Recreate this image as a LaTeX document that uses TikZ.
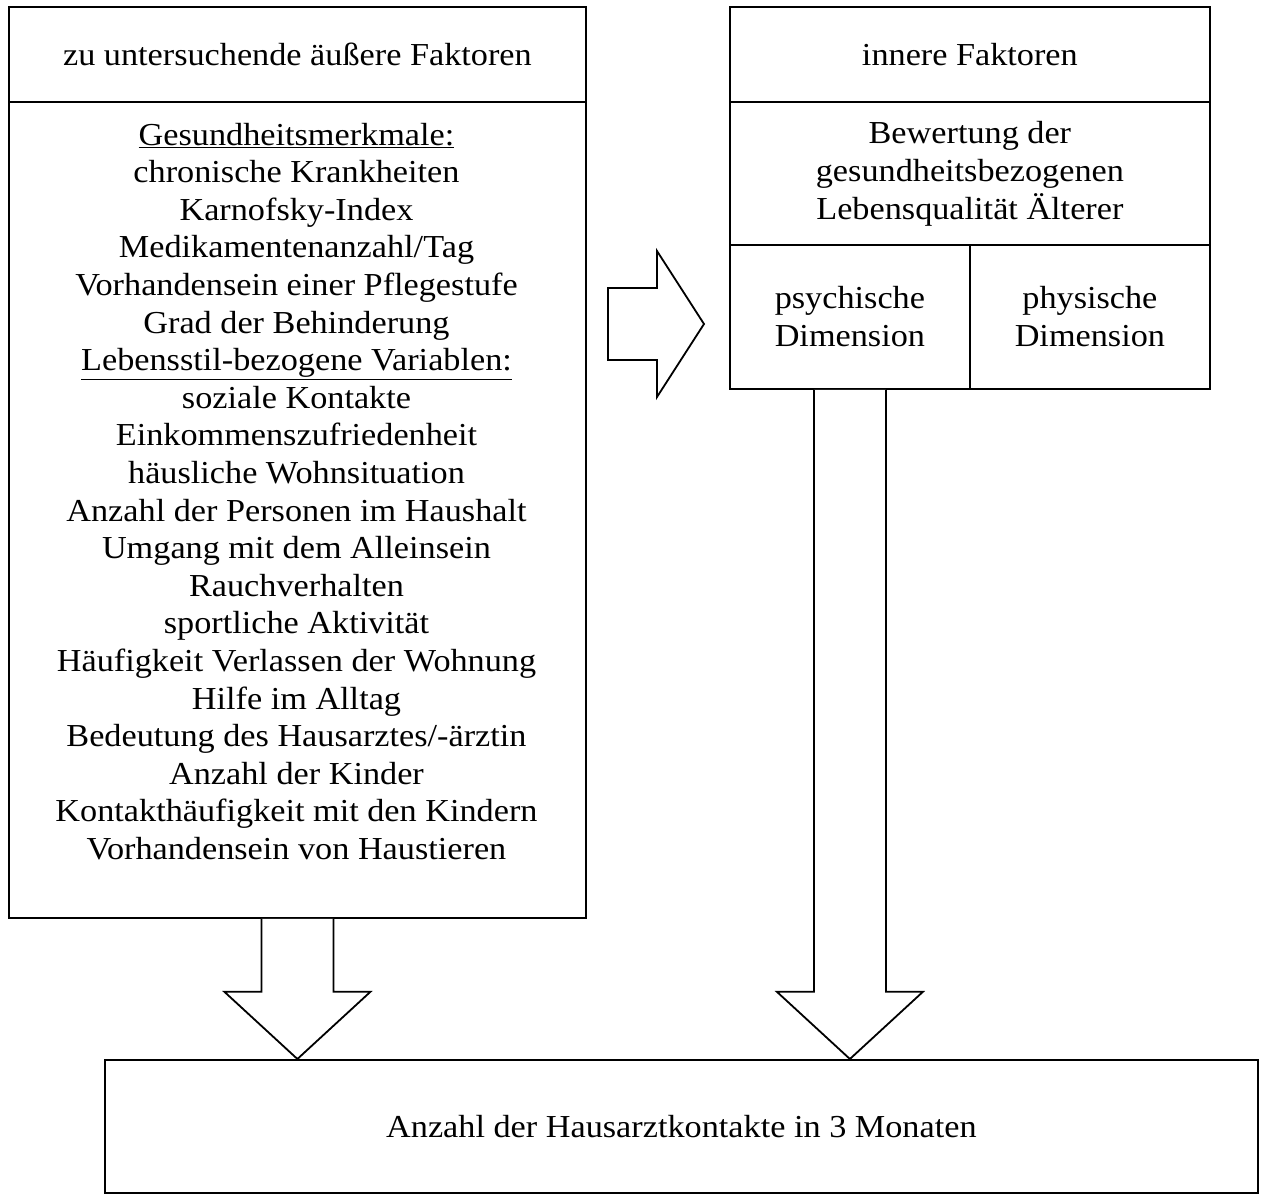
\documentclass[tikz,border=0pt]{standalone}
\usepackage{fontspec}
\setmainfont{Liberation Serif}[FakeStretch=1.07]
\usetikzlibrary{calc}
\begin{document}
\begin{tikzpicture}[x=1pt,y=-1pt,
  cell/.style={draw,line width=1.8pt,inner sep=0pt,anchor=north west,align=center,
    font=\fontsize{32}{38}\selectfont},
  txt/.style={inner sep=0pt,align=center,font=\fontsize{32}{37.6}\selectfont},
  blockarrow/.style={draw,line width=1.8pt,line join=miter,fill=white}]
\useasboundingbox (0,0) rectangle (1262,1198);
% left box
\node[cell,minimum width=577pt,minimum height=95pt] (lh) at (8,6) {zu untersuchende äußere Faktoren};
\node[cell,minimum width=577pt,minimum height=816pt] (lb) at (8,101) {};
\node[txt] (lbt) at (296.5,491.5) {\underline{Gesundheitsmerkmale:}\\
chronische Krankheiten\\
Karnofsky-Index\\
Medikamentenanzahl/Tag\\
Vorhandensein einer Pflegestufe\\
Grad der Behinderung\\
\underline{Lebensstil-bezogene Variablen:}\\
soziale Kontakte\\
Einkommenszufriedenheit\\
häusliche Wohnsituation\\
Anzahl der Personen im Haushalt\\
Umgang mit dem Alleinsein\\
Rauchverhalten\\
sportliche Aktivität\\
Häufigkeit Verlassen der Wohnung\\
Hilfe im Alltag\\
Bedeutung des Hausarztes/-ärztin\\
Anzahl der Kinder\\
Kontakthäufigkeit mit den Kindern\\
Vorhandensein von Haustieren};
% right box
\node[cell,minimum width=480pt,minimum height=95pt] (rh) at (729,6) {innere Faktoren};
\node[cell,minimum width=480pt,minimum height=143pt] (rb) at (729,101) {Bewertung der\\gesundheitsbezogenen\\Lebensqualität Älterer};
\node[cell,minimum width=240pt,minimum height=144pt] (psy) at (729,244) {psychische\\Dimension};
\node[cell,minimum width=240pt,minimum height=144pt] (phy) at (969,244) {physische\\Dimension};
% bottom box
\node[cell,minimum width=1153pt,minimum height=133pt] (bot) at (104,1059) {Anzahl der Hausarztkontakte in 3 Monaten};
% left down arrow
\draw[blockarrow] ($(lb.south)+(-36,0)$) -- ++(0,73) -- ++(-37,0)
  -- (lb.south |- bot.north) -- ($(lb.south)+(73,73)$) -- ++(-37,0) -- ($(lb.south)+(36,0)$);
% right down arrow
\draw[blockarrow] ($(psy.south)+(-36,0)$) -- ++(0,602) -- ++(-37,0)
  -- (psy.south |- bot.north) -- ($(psy.south)+(73,602)$) -- ++(-37,0) -- ($(psy.south)+(36,0)$);
% right arrow
\coordinate (ra) at (608,324);
\draw[blockarrow] ($(ra)+(0,-36)$) -- ++(49,0) -- ++(0,-37) -- ($(ra)+(96,0)$)
  -- ($(ra)+(49,73)$) -- ++(0,-37) -- ($(ra)+(0,36)$) -- cycle;
\end{tikzpicture}
\end{document}
